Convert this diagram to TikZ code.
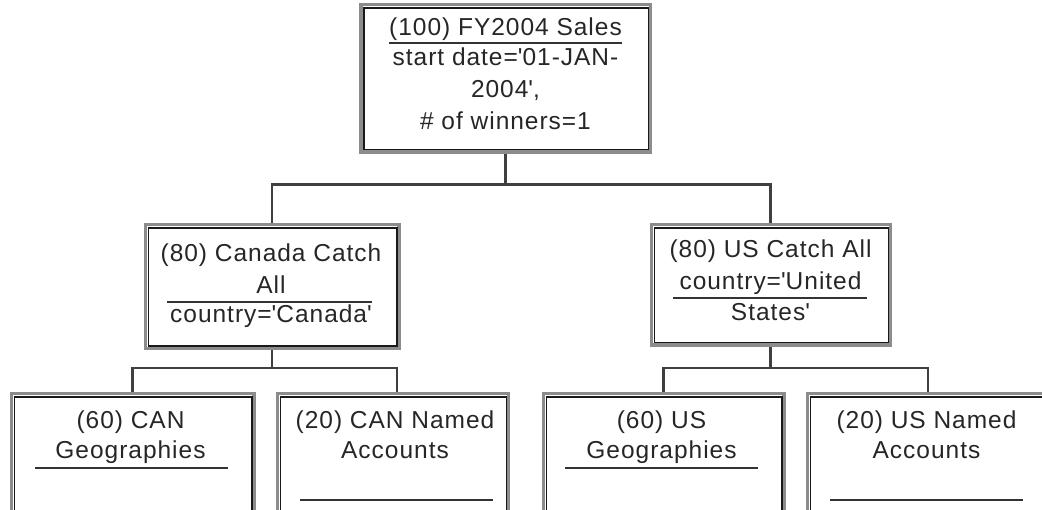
\documentclass[tikz,border=0pt]{standalone}
\usepackage{fontspec}
\setmainfont[LetterSpace=4]{Liberation Sans}
\newcommand{\q}{\textquotesingle}
\tikzset{
  outerbox/.style={draw=black!45, line width=3.5pt, inner sep=0pt, anchor=north west},
  innerline/.style={draw=black!90, line width=1.6pt},
  conn/.style={draw=black!75, line width=2.6pt},
  sepline/.style={draw=black!80, line width=2pt},
  txt/.style={anchor=base, inner sep=0pt, font=\fontsize{24.5}{30}\selectfont, text=black!85},
}
\begin{document}
\begin{tikzpicture}[x=1pt, y=-1pt]
\useasboundingbox (0,0) rectangle (1042,509);
% boxes (outer gray borders)
\node[outerbox, minimum width=289.5pt, minimum height=147.5pt] (top) at (359,2.5) {};
\node[outerbox, minimum width=253.5pt, minimum height=124pt] (ml) at (143.5,222.5) {};
\node[outerbox, minimum width=239pt, minimum height=120.5pt] (mr) at (649.5,222.5) {};
\node[outerbox, minimum width=242.5pt, minimum height=120pt] (b1) at (9.5,391.5) {};
\node[outerbox, minimum width=231pt, minimum height=120pt] (b2) at (275.5,391.5) {};
\node[outerbox, minimum width=240.5pt, minimum height=120pt] (b3) at (541.5,391.5) {};
\node[outerbox, minimum width=241.5pt, minimum height=120pt] (b4) at (805.5,391.5) {};
% inner black borders
\foreach \b in {top,ml,mr,b1,b2,b3,b4}{
  \draw[innerline] ([shift={(5,5.5)}]\b.north west) rectangle ([shift={(-3.5,-4)}]\b.south east);
}
% connectors
\coordinate (j1) at (505,184.5);
\coordinate (j2) at (270,368);
\coordinate (j3) at (770,368);
\coordinate (b2top) at (397,391.5);
\draw[conn] (top.south) -- (top.south |- j1);
\draw[conn] (ml.north) |- (j1) -| (mr.north);
\draw[conn] (ml.south) -- (ml.south |- j2);
\draw[conn] (b1.north) |- (j2) -| (b2top);
\draw[conn] (mr.south) -- (mr.south |- j3);
\draw[conn] (b3.north) |- (j3) -| (b4.north);
% top box text
\node[txt] (t1) at (505.5,35) {(100) FY2004 Sales};
\draw[sepline] (389,42.5) -- (622,42.5);
\node[txt] (t2) at (505.5,65) {start date=\q01-JAN-};
\node[txt] (t3) at (505.5,97) {2004\q,};
\node[txt] (t4) at (505.5,129) {\# of winners=1};
% middle left
\node[txt] (m1) at (271,261) {(80) Canada Catch};
\node[txt] (m2) at (271,293) {All};
\draw[sepline] (167,302) -- (372,302);
\node[txt] (m3) at (271,322) {country=\q Canada\q};
% middle right
\node[txt] (r1) at (770.5,257) {(80) US Catch All};
\node[txt] (r2) at (770.5,289) {country=\q United};
\draw[sepline] (673,298) -- (867,298);
\node[txt] (r3) at (770.5,320) {States\q};
% bottom boxes
\node[txt] (c1) at (130.5,428) {(60) CAN};
\node[txt] (c2) at (130.5,458) {Geographies};
\draw[sepline] (35,467.5) -- (228,467.5);
\node[txt] (d1) at (395,428) {(20) CAN Named};
\node[txt] (d2) at (395,458) {Accounts};
\draw[sepline] (300,500) -- (493,500);
\node[txt] (e1) at (661.5,428) {(60) US};
\node[txt] (e2) at (661.5,458) {Geographies};
\draw[sepline] (565,467.5) -- (758,467.5);
\node[txt] (f1) at (926.5,428) {(20) US Named};
\node[txt] (f2) at (926.5,458) {Accounts};
\draw[sepline] (830,500) -- (1023,500);
\end{tikzpicture}
\end{document}
